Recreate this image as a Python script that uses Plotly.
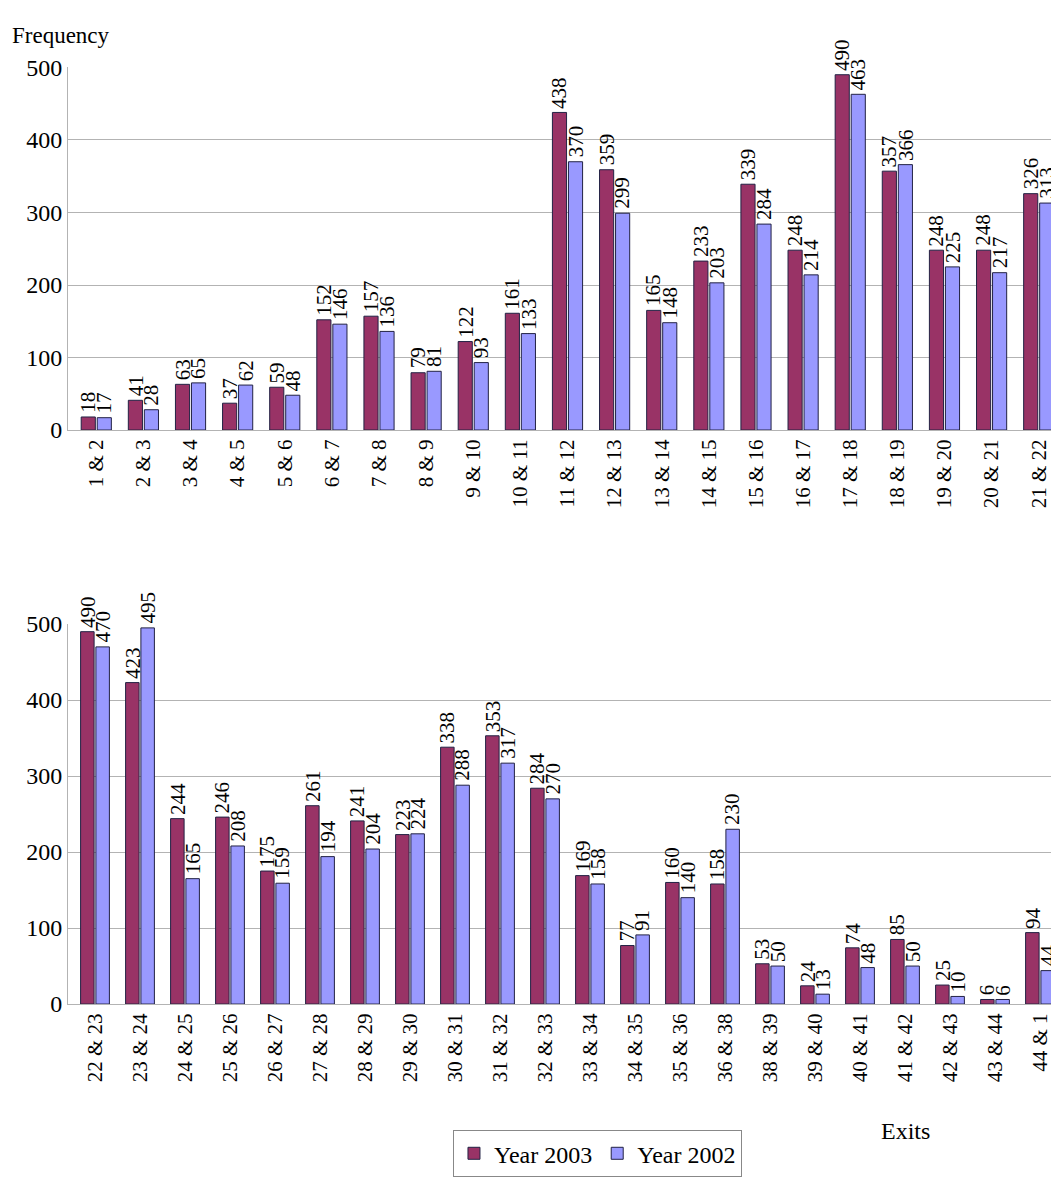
import plotly.graph_objects as go
from plotly.subplots import make_subplots

# exit pairs and counts
top_cats = ["1 & 2", "2 & 3", "3 & 4", "4 & 5", "5 & 6", "6 & 7", "7 & 8", "8 & 9", "9 & 10",
            "10 & 11", "11 & 12", "12 & 13", "13 & 14", "14 & 15", "15 & 16", "16 & 17",
            "17 & 18", "18 & 19", "19 & 20", "20 & 21", "21 & 22"]
top_2003 = [18, 41, 63, 37, 59, 152, 157, 79, 122, 161, 438, 359, 165, 233, 339, 248, 490, 357, 248, 248, 326]
top_2002 = [17, 28, 65, 62, 48, 146, 136, 81, 93, 133, 370, 299, 148, 203, 284, 214, 463, 366, 225, 217, 313]

bot_cats = ["22 & 23", "23 & 24", "24 & 25", "25 & 26", "26 & 27", "27 & 28", "28 & 29", "29 & 30",
            "30 & 31", "31 & 32", "32 & 33", "33 & 34", "34 & 35", "35 & 36", "36 & 38", "38 & 39",
            "39 & 40", "40 & 41", "41 & 42", "42 & 43", "43 & 44", "44 & 1"]
bot_2003 = [490, 423, 244, 246, 175, 261, 241, 223, 338, 353, 284, 169, 77, 160, 158, 53, 24, 74, 85, 25, 6, 94]
bot_2002 = [470, 495, 165, 208, 159, 194, 204, 224, 288, 317, 270, 158, 91, 140, 230, 50, 13, 48, 50, 10, 6, 44]

C2003 = "#993366"
C2002 = "#9999ff"
FONT = "Liberation Serif"
OFF = 0.17
W = 0.3

fig = make_subplots(rows=2, cols=1)
annots = []

def add_pair(cats, v03, v02, row, show):
    idx = list(range(len(cats)))
    for name, vals, col, off in [("Year 2003", v03, C2003, -OFF), ("Year 2002", v02, C2002, OFF)]:
        xs = [i + off for i in idx]
        fig.add_trace(go.Bar(x=xs, y=vals, width=W, name=name, marker_color=col,
                             marker_line=dict(color="#222244", width=1),
                             showlegend=show), row=row, col=1)
        sfx = "" if row == 1 else "2"
        for x, v in zip(xs, vals):
            annots.append(dict(x=x, y=v, xref="x" + sfx, yref="y" + sfx, text=str(v),
                               textangle=-90, showarrow=False, yanchor="bottom",
                               xanchor="center", yshift=2, font=dict(size=21)))
    fig.update_xaxes(tickvals=idx, ticktext=cats, range=[-0.6, len(cats) - 0.4], row=row, col=1)

add_pair(top_cats, top_2003, top_2002, 1, True)
add_pair(bot_cats, bot_2003, bot_2002, 2, False)

axis_y = dict(range=[0, 500], dtick=100, gridcolor="#b3b3b3", zeroline=False,
              tickfont=dict(size=24), showline=True, linecolor="#b3b3b3")

fig.update_xaxes(tickangle=-90, tickfont=dict(size=21), showline=True, linecolor="#b3b3b3",
                 showgrid=False, zeroline=False)

annots += [
    dict(text="Frequency", x=0, xref="paper", xanchor="left", y=1.0, yref="paper",
         yanchor="top", showarrow=False, font=dict(size=23), xshift=-58),
    dict(text="Exits", x=0.865, xref="paper", y=0.032, yref="paper",
         yanchor="bottom", showarrow=False, font=dict(size=24)),
]

fig.update_layout(
    width=1059, height=1188,
    margin=dict(l=60, r=0, t=0, b=0),
    plot_bgcolor="white", paper_bgcolor="white",
    font=dict(family=FONT, color="black"),
    yaxis=dict(domain=[0.648, 0.96], **axis_y),
    yaxis2=dict(domain=[0.154, 0.481], **axis_y),
    legend=dict(orientation="h", x=0.53, xanchor="center", y=0.005, yanchor="bottom",
                font=dict(size=24), bordercolor="#888888", borderwidth=1),
    annotations=annots,
)

fig.write_html("out.html")
